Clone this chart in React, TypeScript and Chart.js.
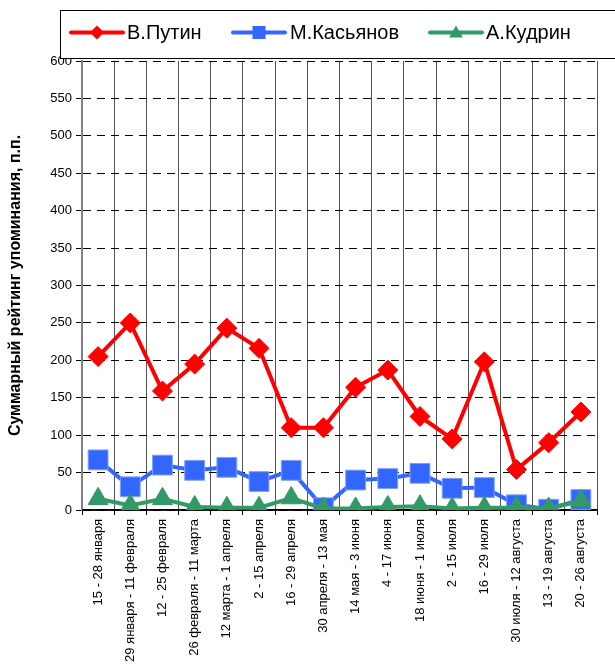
import React, { useEffect, useRef } from "react";
import { Chart, registerables } from "chart.js";

Chart.register(...registerables);

const categories = [
  "15 - 28 января",
  "29 января - 11 февраля",
  "12 - 25 февраля",
  "26 февраля - 11 марта",
  "12 марта - 1 апреля",
  "2 - 15 апреля",
  "16 - 29 апреля",
  "30 апреля - 13 мая",
  "14 мая - 3 июня",
  "4 - 17 июня",
  "18 июня - 1 июля",
  "2 - 15 июля",
  "16 - 29 июля",
  "30 июля - 12 августа",
  "13 - 19 августа",
  "20 - 26 августа",
];

const putin = [205, 250, 159, 195, 243, 216, 110, 110, 164, 187, 125, 95, 198, 54, 90, 131];
const kasyanov = [67, 31, 60, 53, 57, 38, 53, 3, 40, 42, 49, 29, 30, 7, 1, 14];
const kudrin = [15, 6, 15, 4, 3, 3, 16, 2, 2, 4, 5, 2, 3, 3, 2, 12];

const seriesNames = ["В.Путин", "М.Касьянов", "А.Кудрин"];
const seriesColors = ["#ff0000", "#3366ff", "#339966"];

const yTitle = "Суммарный рейтинг упоминания, п.п.";
const yMin = 0;
const yMax = 600;
const yStep = 50;

const FONT = "'Liberation Sans', Arial, sans-serif";

const legendPlugin = {
  id: "boxLegend",
  afterDraw(chart: any) {
    const ctx = chart.ctx as CanvasRenderingContext2D;
    ctx.save();
    ctx.setLineDash([]);
    ctx.fillStyle = "#ffffff";
    ctx.fillRect(60, 10, 570, 48);
    ctx.strokeStyle = "#000000";
    ctx.lineWidth = 1;
    ctx.strokeRect(60.5, 10.5, 570, 48);
    const items = [
      { x: 71, textX: 127, style: "diamond" },
      { x: 233, textX: 290, style: "square" },
      { x: 430, textX: 486, style: "triangle" },
    ];
    const y = 32.5;
    items.forEach((it, i) => {
      ctx.strokeStyle = seriesColors[i];
      ctx.fillStyle = seriesColors[i];
      ctx.lineWidth = 4;
      ctx.lineCap = "round";
      ctx.beginPath();
      ctx.moveTo(it.x, y);
      ctx.lineTo(it.x + 52, y);
      ctx.stroke();
      const cx = it.x + 26;
      ctx.beginPath();
      if (it.style === "diamond") {
        ctx.moveTo(cx, y - 7);
        ctx.lineTo(cx + 7, y);
        ctx.lineTo(cx, y + 7);
        ctx.lineTo(cx - 7, y);
      } else if (it.style === "square") {
        ctx.rect(cx - 6.5, y - 6.5, 13, 13);
      } else {
        ctx.moveTo(cx, y - 7);
        ctx.lineTo(cx + 7, y + 5);
        ctx.lineTo(cx - 7, y + 5);
      }
      ctx.closePath();
      ctx.fill();
      ctx.fillStyle = "#000000";
      ctx.font = `20px ${FONT}`;
      ctx.textBaseline = "middle";
      ctx.textAlign = "left";
      ctx.fillText(seriesNames[i], it.textX, y + 1);
    });
    ctx.restore();
  },
};

const axisLinesPlugin = {
  id: "axisLines",
  beforeDatasetsDraw(chart: any) {
    const { ctx, chartArea } = chart;
    ctx.save();
    ctx.setLineDash([]);
    ctx.strokeStyle = "#808080";
    ctx.lineWidth = 2;
    ctx.beginPath();
    ctx.moveTo(chartArea.left, chartArea.top);
    ctx.lineTo(chartArea.left, chartArea.bottom);
    ctx.stroke();
    ctx.strokeStyle = "#000000";
    ctx.lineWidth = 1.5;
    ctx.beginPath();
    ctx.moveTo(chartArea.left, chartArea.bottom);
    ctx.lineTo(chartArea.right, chartArea.bottom);
    ctx.stroke();
    ctx.restore();
    ctx.setLineDash([]);
  },
};

export default function App() {
  const ref = useRef<HTMLCanvasElement>(null);

  useEffect(() => {
    if (!ref.current) return;
    const common = {
      borderWidth: 4,
      borderDash: [],
      pointBorderWidth: 1,
      tension: 0,
    };
    const chart = new Chart(ref.current, {
      type: "line",
      data: {
        labels: categories,
        datasets: [
          {
            ...common,
            label: seriesNames[0],
            data: putin,
            borderColor: seriesColors[0],
            backgroundColor: seriesColors[0],
            pointStyle: "rectRot",
            pointRadius: 10,
            order: 2,
          },
          {
            ...common,
            label: seriesNames[1],
            data: kasyanov,
            borderColor: seriesColors[1],
            backgroundColor: seriesColors[1],
            pointBorderColor: "#7f9fff",
            pointStyle: "rect",
            pointRadius: 14,
            order: 1,
          },
          {
            ...common,
            label: seriesNames[2],
            data: kudrin,
            borderColor: seriesColors[2],
            backgroundColor: seriesColors[2],
            pointStyle: "triangle",
            pointRadius: 11.5,
            order: 0,
          },
        ],
      },
      options: {
        animation: false,
        responsive: false,
        maintainAspectRatio: false,
        layout: { padding: { top: 61, right: 18, left: 0, bottom: 0 } },
        plugins: {
          legend: { display: false },
          tooltip: { enabled: false },
        },
        scales: {
          x: {
            type: "category",
            offset: true,
            grid: {
              offset: true,
              color: "#555555",
              lineWidth: 1,
              tickLength: 5,
              tickColor: "#000000",
            },
            border: { display: true, color: "#000000", width: 1.5 },
            ticks: {
              autoSkip: false,
              maxRotation: 90,
              minRotation: 90,
              padding: 4,
              color: "#000000",
              font: { family: FONT, size: 13 },
            },
            afterFit(scale: any) {
              scale.height = 161;
            },
          },
          y: {
            min: yMin,
            max: yMax,
            ticks: {
              stepSize: yStep,
              padding: 4,
              color: "#000000",
              font: { family: FONT, size: 13 },
            },
            grid: {
              color: "#000000",
              lineWidth: 1,
              tickLength: 6,
              tickColor: "#000000",
            },
            border: { display: true, color: "#808080", width: 2, dash: [8, 6] },
            title: {
              display: true,
              text: yTitle,
              color: "#000000",
              font: { family: FONT, size: 16, weight: "bold" },
              padding: { top: 6, bottom: 0 },
            },
            afterFit(scale: any) {
              scale.width = 82;
            },
          },
        },
      },
      plugins: [axisLinesPlugin, legendPlugin],
    } as any);
    return () => chart.destroy();
  }, []);

  return (
    <div style={{ position: "fixed", left: 0, top: 0, width: 615, height: 671, background: "#fff" }}>
      <canvas ref={ref} width={615} height={671} />
    </div>
  );
}
